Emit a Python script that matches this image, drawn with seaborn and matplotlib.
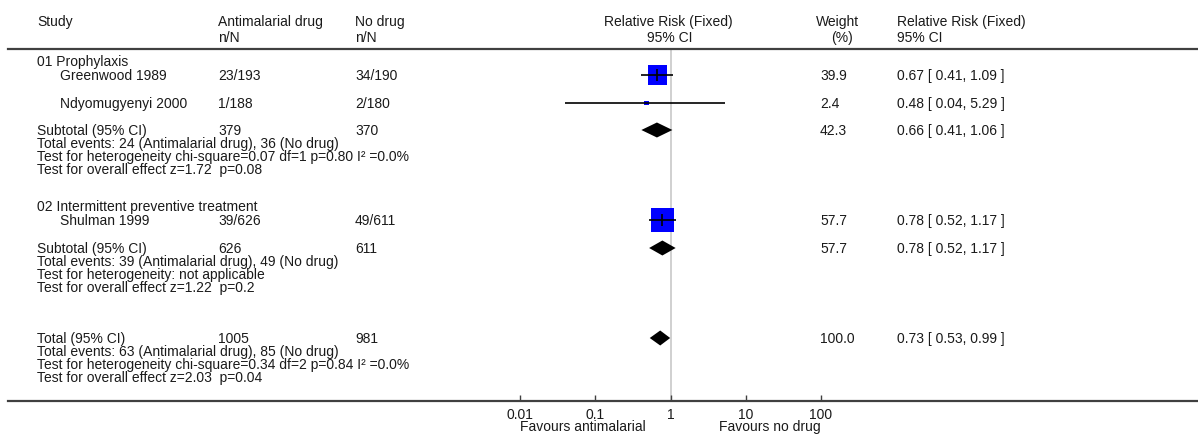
import numpy as np
import pandas as pd
import seaborn as sns
import matplotlib.pyplot as plt
from matplotlib.lines import Line2D

# study level data
studies = ["Greenwood 1989", "Ndyomugyenyi 2000", "Shulman 1999"]
treat_nN = ["23/193", "1/188", "39/626"]
ctrl_nN = ["34/190", "2/180", "49/611"]
study_rr = [0.67, 0.48, 0.78]
study_lo = [0.41, 0.04, 0.52]
study_hi = [1.09, 5.29, 1.17]
study_wt = [39.9, 2.4, 57.7]

# pooled (subtotal / total)
pooled_labels = ["Subtotal (95% CI)", "Subtotal (95% CI)", "Total (95% CI)"]
pooled_treat = ["379", "626", "1005"]
pooled_ctrl = ["370", "611", "981"]
pooled_rr = [0.66, 0.78, 0.73]
pooled_lo = [0.41, 0.52, 0.53]
pooled_hi = [1.06, 1.17, 0.99]
pooled_wt = [42.3, 57.7, 100.0]

groups = ["01 Prophylaxis", "02 Intermittent preventive treatment"]
notes = [
    ["Total events: 24 (Antimalarial drug), 36 (No drug)",
     "Test for heterogeneity chi-square=0.07 df=1 p=0.80 I\u00b2 =0.0%",
     "Test for overall effect z=1.72  p=0.08"],
    ["Total events: 39 (Antimalarial drug), 49 (No drug)",
     "Test for heterogeneity: not applicable",
     "Test for overall effect z=1.22  p=0.2"],
    ["Total events: 63 (Antimalarial drug), 85 (No drug)",
     "Test for heterogeneity chi-square=0.34 df=2 p=0.84 I\u00b2 =0.0%",
     "Test for overall effect z=2.03  p=0.04"],
]
tick_vals = [0.01, 0.1, 1, 10, 100]
tick_labels = ["0.01", "0.1", "1", "10", "100"]

W, H = 1198, 435
plt.rcParams["font.family"] = ["Liberation Sans", "DejaVu Sans"]
plt.rcParams["font.size"] = 10
txtc = "#1a1a1a"

fig = plt.figure(figsize=(W / 100, H / 100), dpi=100)
tax = fig.add_axes([0, 0, 1, 1])
tax.set_xlim(0, W); tax.set_ylim(H, 0); tax.axis("off")

# row positions (pixels)
group_y = [62, 207]
study_y = [76, 104, 221]
pooled_y = [131, 249, 339]
col_study, col_name, col_t, col_c, col_w, col_rr = 37, 60, 218, 355, 820, 897

def t(x, y, s, **kw):
    tax.text(x, y, s, va="center", color=txtc, **kw)

# header
t(col_study, 22, "Study")
t(col_t, 22, "Antimalarial drug"); t(col_t, 38, "n/N")
t(col_c, 22, "No drug"); t(col_c, 38, "n/N")
t(668, 22, "Relative Risk (Fixed)", ha="center"); t(670, 38, "95% CI", ha="center")
t(838, 22, "Weight", ha="center"); t(842, 38, "(%)", ha="center")
t(col_rr, 22, "Relative Risk (Fixed)"); t(col_rr, 38, "95% CI")

for g, y in zip(groups, group_y):
    t(col_study, y, g)

for i, y in enumerate(study_y):
    t(col_name, y, studies[i])
    t(col_t, y, treat_nN[i]); t(col_c, y, ctrl_nN[i])
    t(col_w, y, f"{study_wt[i]:.1f}")
    t(col_rr, y, f"{study_rr[i]:.2f} [ {study_lo[i]:.2f}, {study_hi[i]:.2f} ]")

for i, y in enumerate(pooled_y):
    t(col_study, y, pooled_labels[i])
    t(col_t, y, pooled_treat[i]); t(col_c, y, pooled_ctrl[i])
    t(col_w, y, f"{pooled_wt[i]:.1f}")
    t(col_rr, y, f"{pooled_rr[i]:.2f} [ {pooled_lo[i]:.2f}, {pooled_hi[i]:.2f} ]")
    for k, line in enumerate(notes[i]):
        t(col_study, y + 13 * (k + 1), line)

# horizontal rules
fig.add_artist(Line2D([8 / W, 1], [1 - 50 / H] * 2, color="#404040", lw=1.6))
fig.add_artist(Line2D([8 / W, 1], [1 - 402 / H] * 2, color="#404040", lw=1.6))

# forest axes: 0.01 -> 520px, 100 -> 821px
fax = fig.add_axes([520 / W, 1 - 402 / H, 301 / W, (402 - 50) / H])
fax.set_xscale("log")
fax.set_xlim(0.01, 100)
fax.set_ylim(402, 50)
fax.patch.set_alpha(0)
for s in fax.spines.values():
    s.set_visible(False)
fax.axvline(1, color="#c8c8c8", lw=1.2, zorder=0)

df = pd.DataFrame({"rr": study_rr, "lo": study_lo, "hi": study_hi,
                   "wt": study_wt, "y": study_y})
sns.scatterplot(data=df, x="rr", y="y", size="wt", sizes=(0, 275),
                size_norm=(0, 57.7), marker="s", color="#0000ff",
                linewidth=0, legend=False, ax=fax, zorder=2)
fax.hlines(df["y"], df["lo"], df["hi"], color="black", lw=1.2, zorder=3)
fax.scatter(df["rr"][[0, 2]], df["y"][[0, 2]], marker="|", s=70,
            color="black", lw=1.2, zorder=4)

for rr, lo, hi, y in zip(pooled_rr, pooled_lo, pooled_hi, pooled_y):
    fax.fill([lo, rr, hi, rr], [y, y - 7.5, y, y + 7.5], color="black",
             lw=0, zorder=3)

fax.set_xticks(tick_vals)
fax.set_xticklabels(tick_labels)
fax.minorticks_off()
fax.tick_params(axis="x", direction="in", length=4, width=1, color="#404040",
                pad=4, labelsize=10, labelcolor=txtc)
fax.set_yticks([])
fax.set_xlabel("")
fax.set_ylabel("")
fax.text(0.01, 427, "Favours antimalarial", ha="left", va="center",
         color=txtc, clip_on=False)
fax.text(100, 427, "Favours no drug", ha="right", va="center",
         color=txtc, clip_on=False)

fig.savefig("out.png", dpi=100)
